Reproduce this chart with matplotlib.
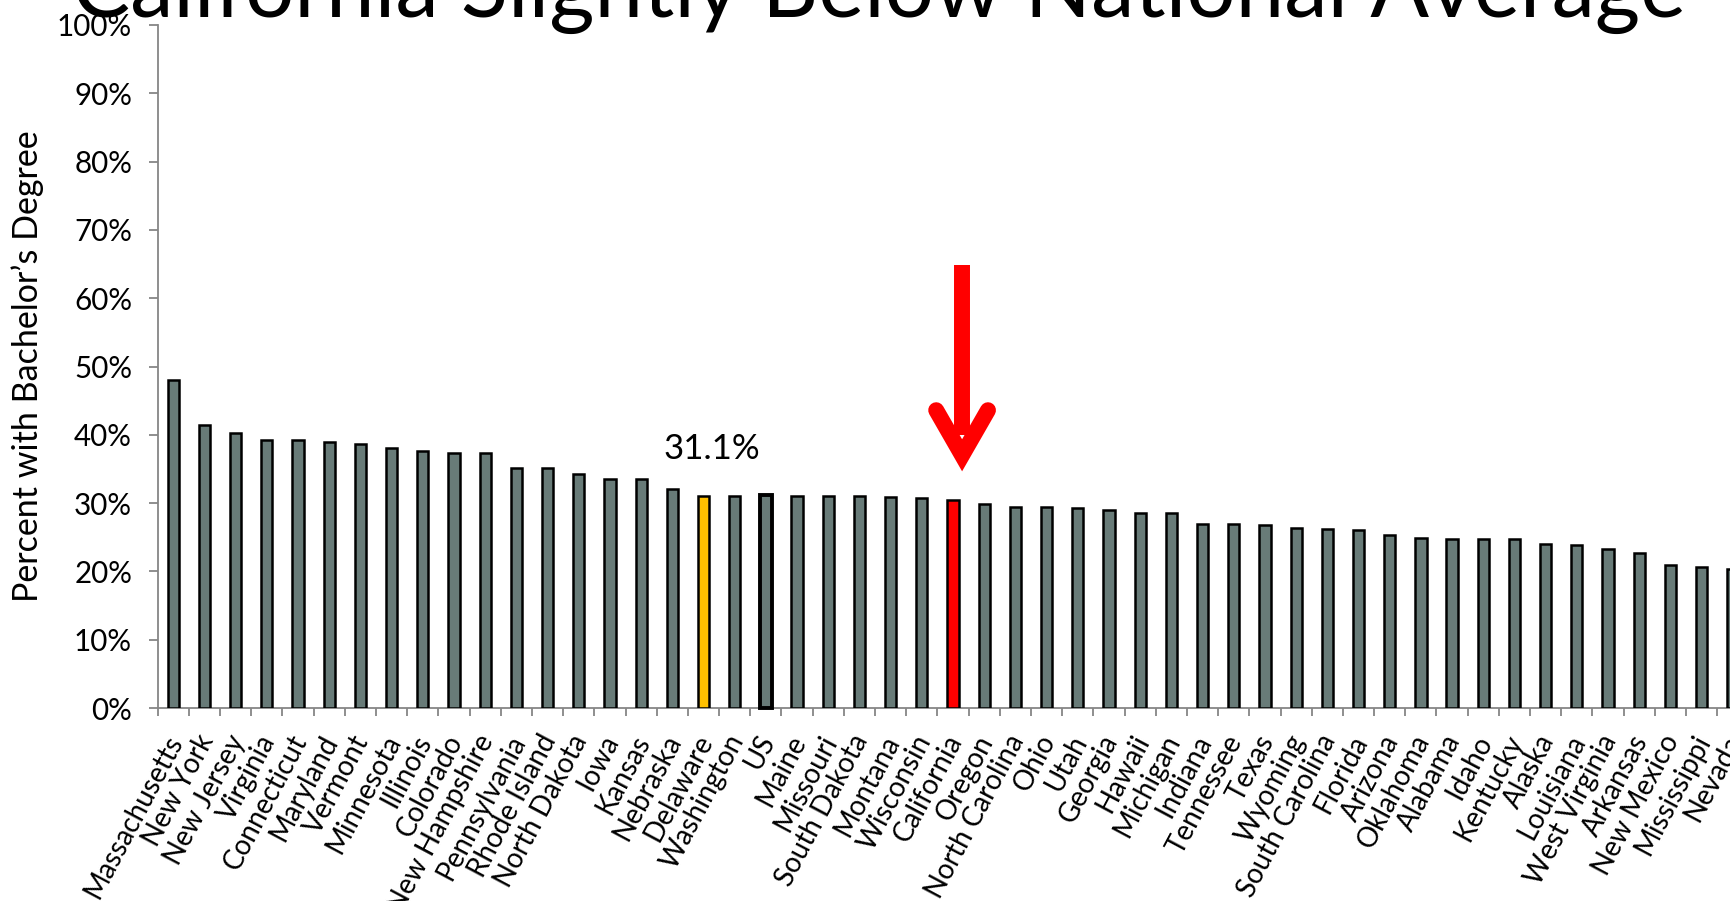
import numpy as np
import matplotlib.pyplot as plt
import matplotlib.transforms as mtransforms
from matplotlib.ticker import FixedLocator

plt.rcParams['font.family'] = ['Lato', 'DejaVu Sans']

# ------------------ Data ------------------
states = ["Massachusetts", "New York", "New Jersey", "Virginia", "Connecticut",
          "Maryland", "Vermont", "Minnesota", "Illinois", "Colorado",
          "New Hampshire", "Pennsylvania", "Rhode Island", "North Dakota", "Iowa",
          "Kansas", "Nebraska", "Delaware", "Washington", "US",
          "Maine", "Missouri", "South Dakota", "Montana", "Wisconsin",
          "California", "Oregon", "North Carolina", "Ohio", "Utah",
          "Georgia", "Hawaii", "Michigan", "Indiana", "Tennessee",
          "Texas", "Wyoming", "South Carolina", "Florida", "Arizona",
          "Oklahoma", "Alabama", "Idaho", "Kentucky", "Alaska",
          "Louisiana", "West Virginia", "Arkansas", "New Mexico", "Mississippi",
          "Nevada"]
pct_bachelor = [48.0, 41.4, 40.2, 39.2, 39.2,
                38.9, 38.7, 38.1, 37.6, 37.4,
                37.3, 35.1, 35.1, 34.2, 33.5,
                33.5, 32.0, 31.1, 31.1, 31.2,
                31.1, 31.1, 31.0, 30.9, 30.8,
                30.4, 29.8, 29.5, 29.5, 29.3,
                29.0, 28.6, 28.5, 27.0, 27.0,
                26.8, 26.4, 26.2, 26.1, 25.4,
                24.9, 24.7, 24.7, 24.7, 24.0,
                23.9, 23.3, 22.7, 21.0, 20.6,
                20.4]
yticks = list(range(0, 101, 10))
title = "California Slightly Below National Average"
ylabel = "Percent with Bachelor\u2019s Degree"
highlight = "Delaware"      # yellow bar with the value label
focus = "California"        # red bar with the arrow
national = "US"             # outlined bar

# ------------------ Colours ------------------
c_bar = "#687b78"
c_highlight = "#ffc000"
c_focus = "#ff0000"
c_axis = "#868686"

# ------------------ Figure ------------------
W, H = 1731, 901
fig = plt.figure(figsize=(W / 100, H / 100), dpi=100)
slot = 31.19  # px per category
n = len(states)
ax = fig.add_axes([157.7 / W, 1 - 708 / H, n * slot / W, 683 / H])

x = np.arange(n)
colors = [c_highlight if s == highlight else c_focus if s == focus else c_bar
          for s in states]
bars = ax.bar(x, pct_bachelor, width=0.36, color=colors,
              edgecolor="black", linewidth=1.8, zorder=3)
i_us = states.index(national)
bars[i_us].set_linewidth(2.8)
bars[i_us].set_clip_on(False)

ax.set_xlim(-0.5, n - 0.5)
ax.set_ylim(0, 100)

# axes styling
for side in ("top", "right"):
    ax.spines[side].set_visible(False)
for side in ("left", "bottom"):
    ax.spines[side].set_color(c_axis)
    ax.spines[side].set_linewidth(1.3)

ax.set_yticks(yticks)
ax.set_yticklabels([f"{v}%" for v in yticks], fontsize=21.3)
ax.tick_params(axis="y", length=6.5, width=1.3, color=c_axis, pad=12)

ax.set_xticks(x)
ax.set_xticklabels(states, fontsize=20, rotation=62, ha="right", va="top",
                   rotation_mode="anchor")
ax.tick_params(axis="x", which="major", length=0, pad=14)
shift = mtransforms.ScaledTranslation(-9 / 100, -3 / 100, fig.dpi_scale_trans)
for lab in ax.get_xticklabels():
    lab.set_transform(lab.get_transform() + shift)
ax.xaxis.set_minor_locator(FixedLocator(np.arange(n + 1) - 0.5))
ax.tick_params(axis="x", which="minor", length=6, width=1.3, color=c_axis)

fig.text(28 / W, 1 - 366 / H, ylabel, rotation=90, fontsize=24.5,
         ha="center", va="center")

# value label over highlighted bar
i_hi = states.index(highlight)
ax.text(i_hi + 0.27, pct_bachelor[i_hi] + 6.8, f"{pct_bachelor[i_hi]:.1f}%",
        fontsize=25, ha="center", va="center")

# red arrow pointing at the focus bar
i_f = states.index(focus)
xa = i_f + 0.29
ax.plot([xa, xa], [64.9, 40.0], color=c_focus, lw=11.5,
        solid_capstyle="butt", zorder=4, clip_on=False)
ax.plot([xa - 0.83, xa, xa + 0.83], [43.6, 37.0, 43.6], color=c_focus, lw=11.5,
        solid_joinstyle="miter", solid_capstyle="round", zorder=4, clip_on=False)

# title, partly above the top edge
t = fig.text(72 / W, 1 - 17 / H, title, fontsize=60, ha="left", va="baseline")
fig.canvas.draw()
w = t.get_window_extent().width
t.set_fontsize(60 * 1617 / w)

fig.savefig("out.png", dpi=100)
